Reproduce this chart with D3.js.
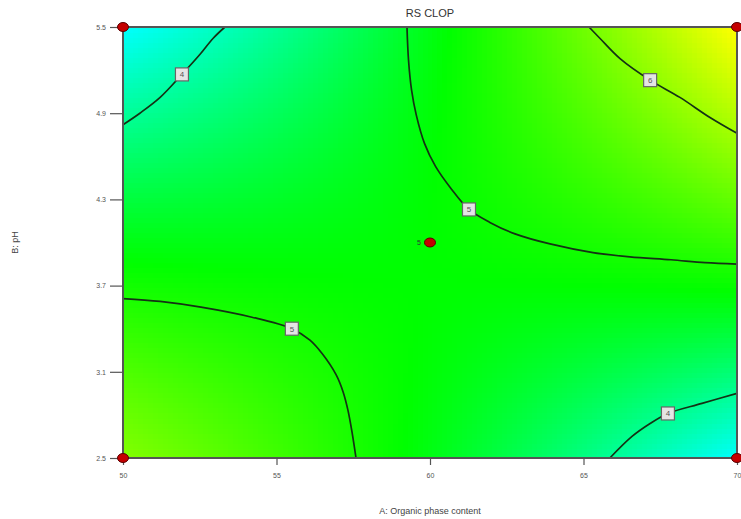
<!DOCTYPE html>
<html>
<head>
<meta charset="utf-8">
<script src="https://cdn.jsdelivr.net/npm/d3@7"></script>
<style>
  body { margin: 0; background: #fff; }
  text { font-family: "Liberation Sans", Arial, sans-serif; }
</style>
</head>
<body>
<div id="chart"></div>
<script>

// factor levels (A: organic phase content, B: pH)
const aLevels = [50, 60, 70];
const bLevels = [2.5, 4, 5.5];
const xTicks = [50, 55, 60, 65, 70];
const yTicks = [2.5, 3.1, 3.7, 4.3, 4.9, 5.5];

// estimated response at the 3x3 design grid (rows follow bLevels)
const respGrid = [
	[5.8, 4.85, 3.6],
	[4.85, 4.95, 5.3],
	[3.6, 4.85, 6.6]
];

// design points and replicate count
const designPts = [[50, 2.5], [70, 2.5], [50, 5.5], [70, 5.5], [60, 4]];
const centerReps = "5";

// contour lines
const contourTL = [[50, 4.82], [50.55, 4.90], [51.21, 5.01], [51.92, 5.17], [52.51, 5.31], [52.93, 5.42], [53.32, 5.5]];
const contourTR = [[65.18, 5.5], [65.54, 5.42], [66.19, 5.28], [67.17, 5.13], [68.14, 5.01], [69.12, 4.87], [70, 4.76]];
const contourC = [[59.25, 5.5], [59.30, 5.27], [59.40, 5.06], [59.55, 4.89], [59.82, 4.69], [60.18, 4.53], [60.67, 4.38],
	[61.27, 4.23], [61.95, 4.14], [62.77, 4.06], [63.91, 3.99], [65.31, 3.93], [66.51, 3.90], [67.85, 3.88], [68.96, 3.86], [70, 3.85]];
const contourLL = [[50, 3.61], [51.21, 3.59], [52.54, 3.55], [54.20, 3.48], [55.50, 3.40], [56.09, 3.32], [56.51, 3.22],
	[56.94, 3.08], [57.17, 2.96], [57.33, 2.83], [57.46, 2.68], [57.59, 2.5]];
const contourBR = [[65.86, 2.5], [66.58, 2.65], [67.17, 2.74], [67.75, 2.81], [68.86, 2.88], [70, 2.95]];

const contourSet = [
	{pts: contourTL, label: "4", at: 3},
	{pts: contourTR, label: "6", at: 3},
	{pts: contourC, label: "5", at: 7},
	{pts: contourLL, label: "5", at: 4},
	{pts: contourBR, label: "4", at: 3}
];

const W = 741, H = 519;
const margin = {top: 27, right: 4, bottom: 61, left: 123};
const width = W - margin.left - margin.right;
const height = H - margin.top - margin.bottom;

const svg = d3.select("#chart").append("svg")
	.attr("width", W)
	.attr("height", H);

const g = svg.append("g")
	.attr("transform", "translate(" + margin.left + "," + margin.top + ")");

const x = d3.scaleLinear().domain([50, 70]).range([0, width]);
const y = d3.scaleLinear().domain([2.5, 5.5]).range([height, 0]);

const color = d3.scaleLinear()
	.domain([3.6, 4.95, 6.6])
	.range(["#00ffff", "#00ff00", "#ffff00"])
	.clamp(true);

// quadratic (Lagrange) weights over three levels, for shading only
function weights(levels, v) {
	return levels.map((li, i) => {
		let w = 1;
		levels.forEach((lj, j) => { if (j !== i) w *= (v - lj) / (li - lj); });
		return w;
	});
}
function shade(a, b) {
	const wa = weights(aLevels, a), wb = weights(bLevels, b);
	let s = 0;
	for (let i = 0; i < 3; i++) for (let j = 0; j < 3; j++) s += wb[i] * wa[j] * respGrid[i][j];
	return s;
}

// background field
const nx = 123, ny = 86;
const cells = [];
for (let i = 0; i < nx; i++) {
	for (let j = 0; j < ny; j++) {
		const a0 = 50 + 20 * i / nx, a1 = 50 + 20 * (i + 1) / nx;
		const b0 = 2.5 + 3 * j / ny, b1 = 2.5 + 3 * (j + 1) / ny;
		cells.push({a0, a1, b0, b1, v: shade((a0 + a1) / 2, (b0 + b1) / 2)});
	}
}
g.append("g").selectAll("rect")
	.data(cells)
	.enter().append("rect")
	.attr("x", d => x(d.a0))
	.attr("y", d => y(d.b1))
	.attr("width", d => x(d.a1) - x(d.a0) + 0.6)
	.attr("height", d => y(d.b0) - y(d.b1) + 0.6)
	.attr("fill", d => color(d.v))
	.attr("shape-rendering", "crispEdges");

// contour lines
const line = d3.line()
	.x(d => x(d[0]))
	.y(d => y(d[1]))
	.curve(d3.curveCatmullRom);

g.append("g").selectAll("path")
	.data(contourSet)
	.enter().append("path")
	.attr("d", d => line(d.pts))
	.attr("fill", "none")
	.attr("stroke", "#143214")
	.attr("stroke-width", 1.7);

// contour labels
const lab = g.append("g").selectAll("g")
	.data(contourSet)
	.enter().append("g")
	.attr("transform", d => "translate(" + x(d.pts[d.at][0]) + "," + y(d.pts[d.at][1]) + ")");
lab.append("rect")
	.attr("x", -6.5).attr("y", -6.5)
	.attr("width", 13).attr("height", 13)
	.attr("fill", "#e4e4e4")
	.attr("stroke", "#666")
	.attr("stroke-width", 1.2);
lab.append("text")
	.attr("text-anchor", "middle")
	.attr("dy", "0.35em")
	.attr("font-size", 8)
	.attr("fill", "#555")
	.text(d => d.label);

// frame
g.append("rect")
	.attr("width", width).attr("height", height)
	.attr("fill", "none")
	.attr("stroke", "#555")
	.attr("stroke-width", 2);

// axes
const xAxis = d3.axisBottom(x).tickValues(xTicks).tickSize(7).tickPadding(8).tickFormat(d3.format("d"));
const yAxis = d3.axisLeft(y).tickValues(yTicks).tickSize(13).tickPadding(4).tickFormat(d3.format(".1f"));

const gx = g.append("g")
	.attr("transform", "translate(0," + height + ")")
	.call(xAxis);
const gy = g.append("g").call(yAxis);

[gx, gy].forEach(ax => {
	ax.select(".domain").remove();
	ax.selectAll(".tick line").attr("stroke", "#555").attr("stroke-width", 1.2);
	ax.selectAll(".tick text").attr("fill", "#555").attr("font-size", 7)
		.attr("font-family", "'Liberation Sans', Arial, sans-serif");
});

// design points
g.append("g").selectAll("ellipse")
	.data(designPts)
	.enter().append("ellipse")
	.attr("cx", d => x(d[0]))
	.attr("cy", d => y(d[1]))
	.attr("rx", 5.5).attr("ry", 4.5)
	.attr("fill", "#c40000")
	.attr("stroke", "#5a0000")
	.attr("stroke-width", 1);

g.append("text")
	.attr("x", x(60) - 11)
	.attr("y", y(4))
	.attr("dy", "0.35em")
	.attr("text-anchor", "middle")
	.attr("font-size", 7)
	.attr("fill", "#333")
	.text(centerReps);

// titles
svg.append("text")
	.attr("x", margin.left + width / 2)
	.attr("y", 17)
	.attr("text-anchor", "middle")
	.attr("font-size", 11)
	.attr("fill", "#333")
	.text("RS CLOP");

svg.append("text")
	.attr("x", margin.left + width / 2)
	.attr("y", 514)
	.attr("text-anchor", "middle")
	.attr("font-size", 9)
	.attr("fill", "#444")
	.text("A: Organic phase content");

svg.append("text")
	.attr("transform", "translate(18," + (margin.top + height / 2) + ") rotate(-90)")
	.attr("text-anchor", "middle")
	.attr("font-size", 9)
	.attr("fill", "#444")
	.text("B: pH");

</script>
</body>
</html>
